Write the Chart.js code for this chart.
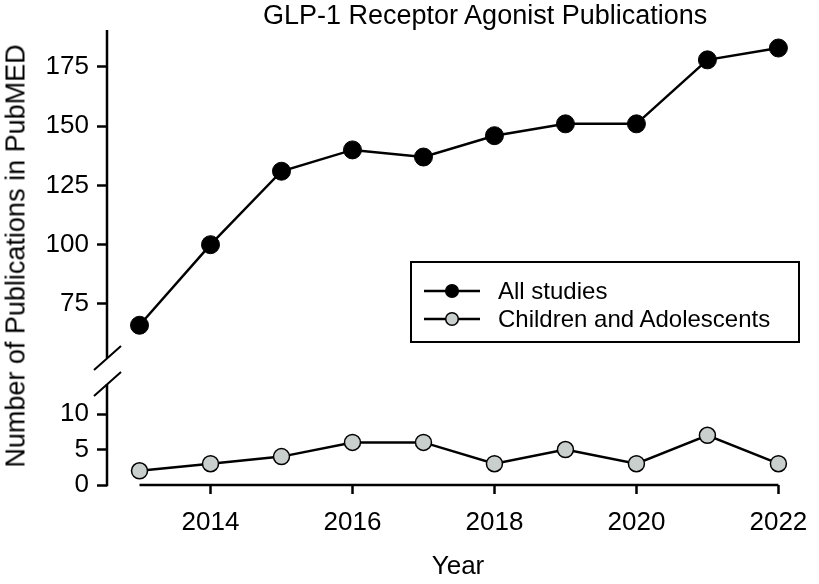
<!DOCTYPE html>
<html lang="en">
<head>
    <meta charset="UTF-8">
    <title>GLP-1 Receptor Agonist Publications</title>
    <script src="https://cdn.jsdelivr.net/npm/chart.js"></script>
    <style>
        body {
            margin: 0;
            background: white;
            font-family: "Liberation Sans", Arial, sans-serif;
            color: black;
        }

        #wrap {
            position: relative;
            width: 819px;
            height: 584px;
        }

        #title {
            position: absolute;
            left: 263px;
            width: 400px;
            top: 0;
            line-height: 30px;
            text-align: center;
            font-size: 27px;
            white-space: nowrap;
        }

        #ytitle {
            position: absolute;
            left: 16px;
            top: 256px;
            font-size: 27px;
            white-space: nowrap;
            transform: translate(-50%, -50%) rotate(-90deg);
        }

        #legend {
            position: absolute;
            left: 410px;
            top: 261px;
            width: 386px;
            height: 78px;
            border: 2px solid black;
            font-size: 24px;
        }

        .row {
            position: absolute;
            left: 12px;
            height: 28px;
            display: flex;
            align-items: center;
        }

        .row svg {
            margin-right: 18px;
        }
    </style>
</head>
<body>
    <div id="wrap">
        <canvas id="chart" width="819" height="584"></canvas>
        <div id="title">GLP-1 Receptor Agonist Publications</div>
        <div id="ytitle">Number of Publications in PubMED</div>
        <div id="legend"></div>
    </div>

    <script>
        // data
        const years = [2013, 2014, 2015, 2016, 2017, 2018, 2019, 2020, 2021, 2022];
        const allStudies = [66, 100, 131, 140, 137, 146, 151, 151, 178, 183];
        const children = [2, 3, 4, 6, 6, 3, 5, 3, 7, 3];
        const seriesNames = ['All studies', 'Children and Adolescents'];
        const seriesFill = ['#000000', '#c9cfcc'];
        const xTicks = [2014, 2016, 2018, 2020, 2022];
        const topTicks = [75, 100, 125, 150, 175];
        const bottomTicks = [0, 5, 10];

        const toPoints = vals => vals.map((v, i) => ({x: years[i], y: v}));

        // html legend (line + marker, like the original)
        const legend = document.getElementById('legend');
        seriesNames.forEach((name, i) => {
            const row = document.createElement('div');
            row.className = 'row';
            row.style.top = (14 + i * 28) + 'px';
            row.innerHTML = `<svg width="56" height="16"><line x1="0" y1="8" x2="56" y2="8" stroke="black" stroke-width="2.5"/>` +
                `<circle cx="28" cy="8" r="6.3" fill="${seriesFill[i]}" stroke="black" stroke-width="1.5"/></svg><span>${name}</span>`;
            legend.appendChild(row);
        });

        // axis lines with the break marks
        const brokenAxes = {
            id: 'brokenAxes',
            afterDraw(chart) {
                const ctx = chart.ctx;
                const {x, yTop, yBot} = chart.scales;
                const ax = chart.chartArea.left;
                const topEnd = yTop.bottom - 13;
                const botStart = yBot.top + 13;
                ctx.save();
                ctx.strokeStyle = '#000';
                ctx.lineWidth = 2.5;
                ctx.beginPath();
                ctx.moveTo(ax, yTop.top);
                ctx.lineTo(ax, topEnd);
                ctx.moveTo(ax, botStart);
                ctx.lineTo(ax, yBot.getPixelForValue(0) + 1.2);
                // x axis line only between first and last year
                const xb = chart.chartArea.bottom;
                ctx.moveTo(x.getPixelForValue(years[0]), xb);
                ctx.lineTo(x.getPixelForValue(years[years.length - 1]), xb);
                ctx.stroke();
                ctx.lineWidth = 2;
                ctx.beginPath();
                [topEnd, botStart].forEach(cy => {
                    ctx.moveTo(ax - 13, cy + 12);
                    ctx.lineTo(ax + 14, cy - 12);
                });
                ctx.stroke();
                ctx.restore();
            }
        };

        const tickFont = {family: '"Liberation Sans", Arial, sans-serif', size: 26};
        const yScale = (min, max, ticks, weight, order) => ({
            type: 'linear',
            position: 'left',
            stack: 'left',
            stackWeight: weight,
            weight: order,
            min: min,
            max: max,
            afterBuildTicks: s => { s.ticks = ticks.map(v => ({value: v})); },
            afterFit: s => { s.width = 107; s.paddingTop = 0; s.paddingBottom = 0; },
            ticks: {font: tickFont, color: '#000', padding: 8},
            grid: {drawOnChartArea: false, tickLength: 10, tickWidth: 2.5, tickColor: '#000'},
            border: {display: false}
        });

        new Chart(document.getElementById('chart'), {
            type: 'line',
            data: {
                datasets: [{
                    label: seriesNames[0],
                    data: toPoints(allStudies),
                    yAxisID: 'yTop',
                    borderColor: '#000',
                    borderWidth: 2.5,
                    pointRadius: 9,
                    pointBackgroundColor: seriesFill[0],
                    pointBorderColor: '#000',
                    pointBorderWidth: 1,
                    clip: false
                }, {
                    label: seriesNames[1],
                    data: toPoints(children),
                    yAxisID: 'yBot',
                    borderColor: '#000',
                    borderWidth: 2.5,
                    pointRadius: 8,
                    pointBackgroundColor: seriesFill[1],
                    pointBorderColor: '#000',
                    pointBorderWidth: 1.5,
                    clip: false
                }]
            },
            options: {
                responsive: false,
                animation: false,
                layout: {padding: {top: 30, left: 0, right: 0, bottom: 0}},
                plugins: {legend: {display: false}, tooltip: {enabled: false}},
                scales: {
                    x: {
                        type: 'linear',
                        min: 2012.542,
                        max: 2022.431,
                        afterBuildTicks: s => { s.ticks = xTicks.map(v => ({value: v})); },
                        afterFit: s => { s.height = 99; s.paddingLeft = 0; s.paddingRight = 0; },
                        ticks: {font: tickFont, color: '#000', padding: 13, maxRotation: 0, autoSkip: false,
                            callback: v => String(v)},
                        grid: {drawOnChartArea: false, tickLength: 9, tickWidth: 2.5, tickColor: '#000'},
                        border: {display: false},
                        title: {display: true, text: 'Year', font: tickFont, color: '#000', padding: {top: 0, bottom: 2}}
                    },
                    yTop: yScale(46.7, 190.6, topTicks, 341, 1),
                    yBot: yScale(0, 16.06, bottomTicks, 114, 0)
                }
            },
            plugins: [brokenAxes]
        });
    </script>
</body>
</html>
